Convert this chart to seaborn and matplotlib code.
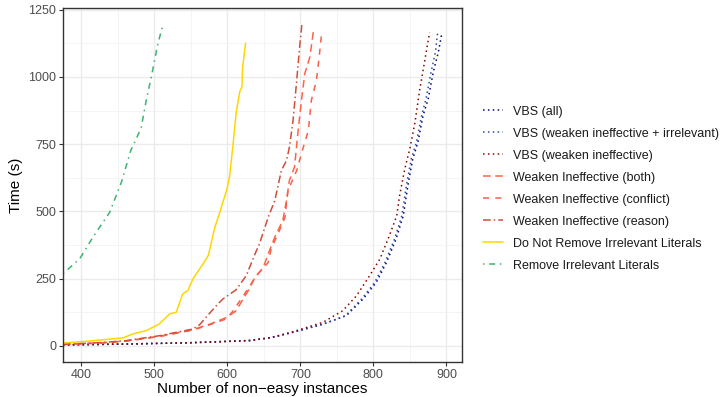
import numpy as np
import pandas as pd
import matplotlib
matplotlib.use("Agg")
import matplotlib.pyplot as plt
import seaborn as sns
from matplotlib.ticker import MultipleLocator

# =========================
# DATA
# =========================
vbs_all_x = [375, 460, 550, 630, 660, 690, 731, 763, 786, 804, 818, 831, 841, 848, 854, 861, 868, 875, 882, 889, 894]
vbs_all_y = [3, 6, 11, 19, 30, 50, 80, 112, 174, 236, 310, 397, 484, 609, 696, 757, 856, 918, 1018, 1093, 1166]

vbs_irr_x = [375, 460, 550, 630, 660, 690, 731, 762, 784, 802, 816, 829, 839, 846, 852, 859, 866, 872, 879, 885, 888]
vbs_irr_y = [3, 6, 11, 19, 30, 50, 80, 112, 174, 236, 310, 397, 484, 609, 696, 757, 856, 918, 1018, 1093, 1166]

vbs_weak_x = [375, 460, 550, 630, 660, 690, 731, 758, 777, 795, 809, 822, 832, 836, 843, 850, 857, 863, 870, 877]
vbs_weak_y = [3, 6, 11, 19, 30, 52, 87, 130, 186, 261, 323, 410, 484, 560, 658, 734, 831, 945, 1055, 1166]

both_x = [375, 430, 462, 507, 553, 576, 599, 612, 630, 638, 649, 656, 665, 676, 681, 685, 692, 697, 701, 706, 713, 718]
both_y = [5, 11, 18, 35, 60, 80, 105, 130, 211, 255, 290, 342, 404, 466, 540, 615, 665, 801, 900, 1012, 1074, 1173]

conflict_x = [375, 430, 462, 507, 553, 576, 599, 608, 622, 640, 656, 660, 670, 679, 683, 695, 704, 711, 715, 722, 726, 729]
conflict_y = [4, 10, 17, 34, 58, 78, 100, 130, 186, 261, 310, 360, 420, 478, 577, 652, 738, 801, 912, 987, 1080, 1160]

reason_x = [375, 430, 462, 507, 553, 562, 573, 585, 594, 612, 626, 638, 644, 656, 665, 674, 681, 685, 690, 695, 699, 702]
reason_y = [5, 12, 19, 37, 62, 78, 112, 149, 174, 208, 261, 342, 379, 478, 540, 652, 689, 738, 838, 987, 1111, 1194]

keep_x = [375, 400, 430, 457, 471, 489, 507, 521, 530, 539, 546, 553, 567, 574, 583, 589, 599, 603, 608, 612, 617, 620, 621, 625]
keep_y = [10, 15, 22, 29, 44, 56, 81, 118, 124, 193, 205, 249, 305, 336, 441, 491, 578, 628, 753, 865, 945, 964, 1038, 1126]

remove_x = [375, 378, 398, 416, 439, 455, 468, 482, 489, 496, 505, 512]
remove_y = [268, 275, 324, 404, 497, 609, 728, 810, 914, 1001, 1126, 1194]

labels = [
    "VBS (all)",
    "VBS (weaken ineffective + irrelevant)",
    "VBS (weaken ineffective)",
    "Weaken Ineffective (both)",
    "Weaken Ineffective (conflict)",
    "Weaken Ineffective (reason)",
    "Do Not Remove Irrelevant Literals",
    "Remove Irrelevant Literals",
]
series = [
    (vbs_all_x, vbs_all_y),
    (vbs_irr_x, vbs_irr_y),
    (vbs_weak_x, vbs_weak_y),
    (both_x, both_y),
    (conflict_x, conflict_y),
    (reason_x, reason_y),
    (keep_x, keep_y),
    (remove_x, remove_y),
]

# =========================
# STYLE
# =========================
colors = ["#00008B", "#2E4A9E", "#8B0000", "#FF6347", "#F4614A", "#CD4F39", "#FFD700", "#3CB371"]
styles = [
    (0, (1, 2.2)),
    (0, (1, 2.2)),
    (0, (1, 2.2)),
    (0, (5, 3)),
    (0, (4, 4)),
    (0, (5, 2, 1, 2)),
    "-",
    (0, (1, 3, 4, 3)),
]

sns.set_theme(style="whitegrid")
plt.rcParams["font.family"] = ["Liberation Sans", "DejaVu Sans"]

fig, ax = plt.subplots(figsize=(7.26, 3.97), dpi=100)
fig.subplots_adjust(left=0.0868, right=0.636, top=0.980, bottom=0.088)

for (xs, ys), lab, col, ls in zip(series, labels, colors, styles):
    d = pd.DataFrame({"n": xs, "t": ys})
    sns.lineplot(data=d, x="n", y="t", ax=ax, color=col, linestyle=ls,
                 linewidth=1.1, label=lab, estimator=None)

ax.set_xlim(375, 921)
ax.set_ylim(-61, 1257)
ax.set_xticks([400, 500, 600, 700, 800, 900])
ax.set_yticks([0, 250, 500, 750, 1000, 1250])
ax.xaxis.set_minor_locator(MultipleLocator(50))
ax.yaxis.set_minor_locator(MultipleLocator(125))
ax.grid(which="major", color="#EBEBEB", linewidth=1.0)
ax.grid(which="minor", color="#F2F2F2", linewidth=0.6)
ax.set_axisbelow(True)

for sp in ax.spines.values():
    sp.set_color("#333333")
    sp.set_linewidth(1.0)

ax.tick_params(axis="both", which="major", direction="out", length=3, width=0.8,
               color="#333333", labelcolor="#4D4D4D", labelsize=9, pad=2,
               bottom=True, left=True)
ax.tick_params(axis="both", which="minor", length=0)

ax.set_xlabel("Number of non\u2212easy instances", fontsize=11, labelpad=1, color="black")
ax.set_ylabel("Time (s)", fontsize=11, labelpad=4, color="black")

leg = ax.legend(loc="center left", bbox_to_anchor=(1.041, 0.49), frameon=False,
                fontsize=9, handlelength=1.6, handletextpad=0.8, labelspacing=0.8,
                borderaxespad=0)
for t in leg.get_texts():
    t.set_color("#1A1A1A")

plt.savefig("out.png", dpi=100)
plt.close()
